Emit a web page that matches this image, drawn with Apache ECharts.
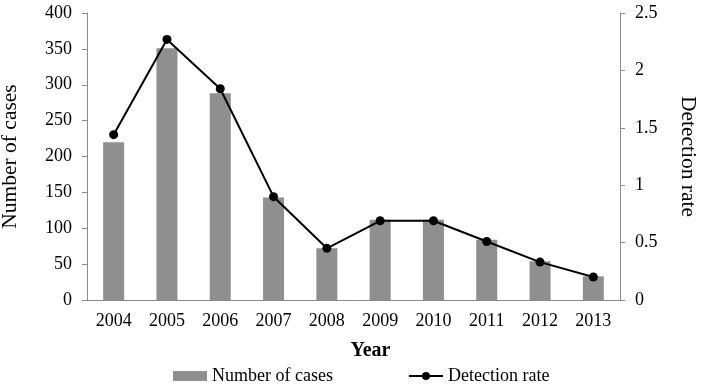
<!DOCTYPE html>
<html>
<head>
<meta charset="utf-8">
<script src="https://cdn.jsdelivr.net/npm/echarts@6/dist/echarts.min.js"></script>
<style>
  html, body { margin: 0; padding: 0; background: #fff; }
  #chart { width: 706px; height: 390px; }
</style>
</head>
<body>
<div id="chart"></div>
<script>
var years = ['2004', '2005', '2006', '2007', '2008', '2009', '2010', '2011', '2012', '2013'];
var cases = [220, 351, 288, 143, 72, 112, 112, 84, 54, 33];
var detectionRate = [1.44, 2.27, 1.84, 0.90, 0.45, 0.69, 0.69, 0.51, 0.33, 0.20];

var font = 'Liberation Serif';
var axisGray = '#8c8c8c';

var chart = echarts.init(document.getElementById('chart'));
chart.setOption({
  animation: false,
  textStyle: { fontFamily: font },
  grid: { left: 87, right: 86, top: 13, bottom: 90, containLabel: false, outerBoundsMode: 'none' },
  legend: {
    left: 168,
    top: 362,
    itemGap: 75,
    itemWidth: 34,
    itemHeight: 10,
    textStyle: { fontFamily: font, fontSize: 18, color: '#000' },
    data: [
      { name: 'Number of cases', icon: 'rect' },
      { name: 'Detection rate' }
    ]
  },
  xAxis: {
    type: 'category',
    data: years,
    name: 'Year',
    nameLocation: 'middle',
    nameGap: 41,
    nameTextStyle: { fontFamily: font, fontSize: 20, fontWeight: 'bold', color: '#000', padding: [0, 0, 0, 34] },
    axisLine: { lineStyle: { color: axisGray } },
    axisTick: { length: 5, lineStyle: { color: axisGray } },
    axisLabel: { fontFamily: font, fontSize: 18, color: '#000', margin: 12 }
  },
  yAxis: [
    {
      type: 'value',
      min: 0, max: 400, interval: 50,
      name: 'Number of cases',
      nameLocation: 'middle',
      nameGap: 66,
      nameTextStyle: { fontFamily: font, fontSize: 21.5, color: '#000' },
      axisLine: { show: true, lineStyle: { color: axisGray } },
      axisTick: { show: true, length: 5, lineStyle: { color: axisGray } },
      axisLabel: { fontFamily: font, fontSize: 18, color: '#000', margin: 15 },
      splitLine: { show: false }
    },
    {
      type: 'value',
      min: 0, max: 2.5, interval: 0.5,
      position: 'right',
      name: 'Detection rate',
      nameLocation: 'middle',
      nameGap: 57,
      nameRotate: -90,
      nameTextStyle: { fontFamily: font, fontSize: 21.5, color: '#000' },
      axisLine: { show: true, lineStyle: { color: axisGray } },
      axisTick: { show: true, length: 5, lineStyle: { color: axisGray } },
      axisLabel: { fontFamily: font, fontSize: 18, color: '#000', margin: 15 },
      splitLine: { show: false }
    }
  ],
  series: [
    {
      name: 'Number of cases',
      type: 'bar',
      data: cases,
      barWidth: 21,
      itemStyle: { color: '#8f8f8f' }
    },
    {
      name: 'Detection rate',
      type: 'line',
      yAxisIndex: 1,
      data: detectionRate,
      symbol: 'circle',
      symbolSize: 9,
      lineStyle: { color: '#000', width: 2 },
      itemStyle: { color: '#000' }
    }
  ]
});
</script>
</body>
</html>
